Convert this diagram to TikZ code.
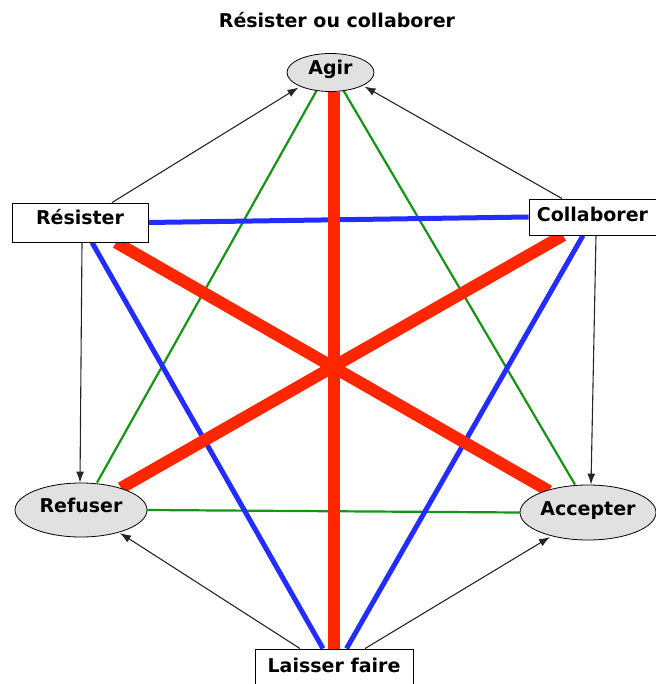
\documentclass[tikz,border=0pt]{standalone}
\usepackage{fontspec}
\setmainfont{DejaVu Sans}
\usetikzlibrary{shapes.geometric,arrows.meta,backgrounds}
\definecolor{redl}{RGB}{255,38,0}
\definecolor{bluel}{RGB}{35,45,255}
\definecolor{greenl}{RGB}{20,150,20}
\definecolor{ellfill}{RGB}{225,225,225}
\begin{document}
\begin{tikzpicture}[x=1pt,y=-1pt,
  every node/.style={font=\fontsize{19}{23}\selectfont\bfseries, text height=14pt, text depth=9pt, inner sep=0pt},
  ell/.style={ellipse, draw, line width=0.8pt, fill=ellfill},
  boxn/.style={rectangle, draw, line width=0.9pt, fill=white},
  redc/.style={draw=redl, line width=12pt},
  bluec/.style={draw=bluel, line width=5pt},
  greenc/.style={draw=greenl, line width=2.2pt},
  arr/.style={draw=black!85, line width=1.1pt, -{Latex[length=11pt,width=8pt]}},
]
\useasboundingbox (0,0) rectangle (655,684);
\node[anchor=base] (title) at (337,28) {Résister ou collaborer};
\node[ell, minimum width=87pt, minimum height=38pt] (agir) at (330.5,72.5) {Agir};
\node[boxn, minimum width=136pt, minimum height=39pt] (res) at (80,222.5) {Résister};
\node[boxn, minimum width=127pt, minimum height=36pt, text depth=4pt] (col) at (592.5,217) {Collaborer};
\node[ell, minimum width=132pt, minimum height=54pt] (ref) at (81,510) {Refuser};
\node[ell, minimum width=136pt, minimum height=55pt] (acc) at (588,512.5) {Accepter};
\node[boxn, minimum width=158pt, minimum height=42pt] (lai) at (334,670) {Laisser faire};
\begin{scope}[on background layer]
  % green
  \draw[greenc] ([shift={(-12.2,15)}]agir.center) -- ([xshift=16pt]ref.north);
  \draw[greenc] ([shift={(11.5,15.5)}]agir.center) -- ([xshift=-13pt]acc.north);
  \draw[greenc] (ref.east) -- (acc.west);
  % blue
  \draw[bluec] (res.east) -- (col.west);
  \draw[bluec] ([xshift=12pt]res.south) -- ([xshift=-11pt]lai.north);
  \draw[bluec] ([xshift=-9.5pt]col.south) -- ([xshift=12.5pt]lai.north);
  % red
  \draw[redc] ([xshift=3pt]agir.south) -- ([xshift=-0.5pt]lai.north);
  \draw[redc] ([xshift=36pt]res.south) -- ([shift={(-39,-21.5)}]acc.center);
  \draw[redc] ([xshift=-29.5pt]col.south) -- ([shift={(40,-22)}]ref.center);
\end{scope}
% black arrows
\draw[arr] ([xshift=32pt]res.north) -- ([shift={(-32,15)}]agir.center);
\draw[arr] ([xshift=-30.5pt]col.north) -- ([shift={(34,14)}]agir.center);
\draw[arr] ([xshift=2pt]res.south) -- ([xshift=-1pt]ref.north);
\draw[arr] ([xshift=3.5pt]col.south) -- ([xshift=3pt]acc.north);
\draw[arr] ([xshift=-34pt]lai.north) -- ([shift={(39,23)}]ref.center);
\draw[arr] ([xshift=31pt]lai.north) -- ([shift={(-38,24.5)}]acc.center);
\end{tikzpicture}
\end{document}
